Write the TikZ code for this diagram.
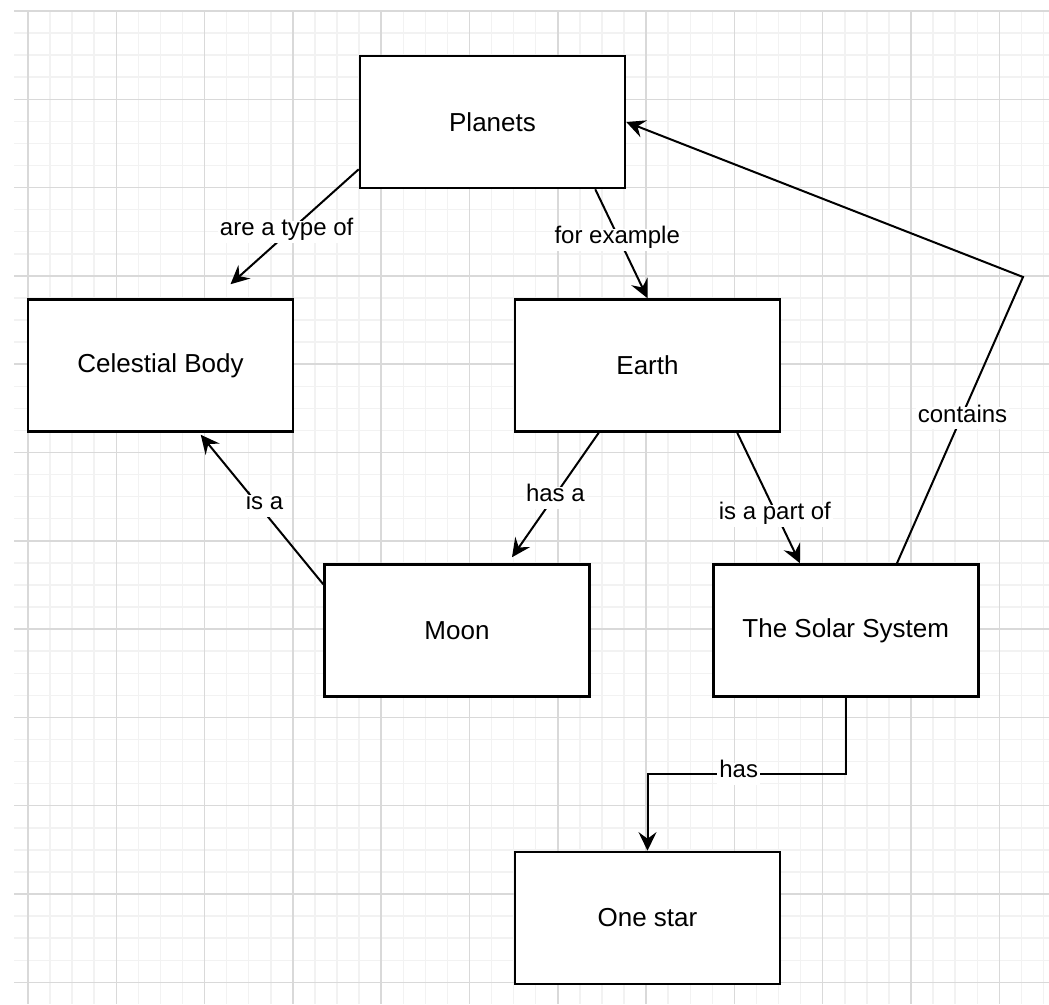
\documentclass[tikz,border=0pt]{standalone}
\usepackage{fontspec}
\setmainfont{Liberation Sans}
\usepackage{tikz}
\usetikzlibrary{calc, arrows.meta}
\tikzset{>={Stealth[length = 14pt, width = 13.5pt, inset = 5pt]}}
\definecolor{minorgray}{HTML}{F2F2F2}
\definecolor{majorgray}{HTML}{D9D9D9}
\tikzset{
  concept/.style = {draw, fill = white, line width = 1.9pt, minimum width = 198.75pt, minimum height = 99pt, font = \fontsize{19.5}{23}\selectfont},
  link/.style = {->, line width = 1.5pt},
  lbl/.style = {fill = white, inner xsep = 1.5pt, inner ysep = 3pt, text height = 0.8em, text depth = 0.25em, font = \fontsize{18}{21}\selectfont},
  minorline/.style = {draw = minorgray, line width = 1.1pt},
  majorline/.style = {draw = majorgray, line width = 1.1pt}
}

\begin{document}
\begin{tikzpicture}[x = 0.75pt, y = -0.75pt]
\useasboundingbox (0, 0) rectangle (1049, 1004);
\fill[white] (0, 0) rectangle (1049, 1004);

\begin{scope}
\foreach \k in {0,...,46} \draw[minorline] ({28 + 22.075*\k}, 11) -- ({28 + 22.075*\k}, 1004);
\foreach \k in {0,...,44} \draw[minorline] (14, {11 + 22.075*\k}) -- (1049, {11 + 22.075*\k});
\foreach \k in {0,...,11} \draw[majorline] ({28 + 88.3*\k}, 11) -- ({28 + 88.3*\k}, 1004);
\foreach \k in {0,...,11} \draw[majorline] (14, {11 + 88.3*\k}) -- (1049, {11 + 88.3*\k});
\end{scope}

\node[concept] (planets) at (492.5, 122) {Planets};
\node[concept] (celestial) at (160.5, 365.5) {Celestial Body};
\node[concept] (earth) at (647.5, 365.5) {Earth};
\node[concept] (moon) at (457, 630.5) {Moon};
\node[concept] (solar) at (845.75, 630.5) {The Solar System};
\node[concept] (onestar) at (647.5, 918) {One star};

\coordinate (bend) at (1023, 277);
\coordinate (hasturn) at (845.75, 774);

\draw[link] ($(planets.south west) + (0, -20)$) -- node[lbl, pos = 0.51, xshift = -5pt, yshift = -3pt] {are a type of} ($(celestial.north) + (70, -14)$);
\draw[link] ($(planets.south east) + (-31, 0)$) -- node[lbl, pos = 0.42, yshift = -3.5pt] {for example} (earth.north);
\draw[link] ($(earth.south west) + (85, 0)$) -- node[lbl, pos = 0.5, yshift = -2pt] {has a} ($(moon.north) + (55, -6)$);
\draw[link] ($(earth.south east) + (-44, 0)$) -- node[lbl, pos = 0.6, yshift = -3.5pt] {is a part of} ($(solar.north west) + (88, 0)$);
\draw[link] ($(moon.north west) + (0, 21)$) -- node[lbl, pos = 0.55, xshift = 6.5pt, yshift = -3pt] {is a} ($(celestial.south west) + (174, 2)$);
\draw[link] ($(solar.north west) + (185, 0)$) -- node[lbl, pos = 0.52, yshift = -3pt] {contains} (bend) -- (planets.east);
\draw[link] (solar.south) -- (hasturn) -| node[lbl, pos = 0.27] {has} (onestar.north);
\end{tikzpicture}
\end{document}
